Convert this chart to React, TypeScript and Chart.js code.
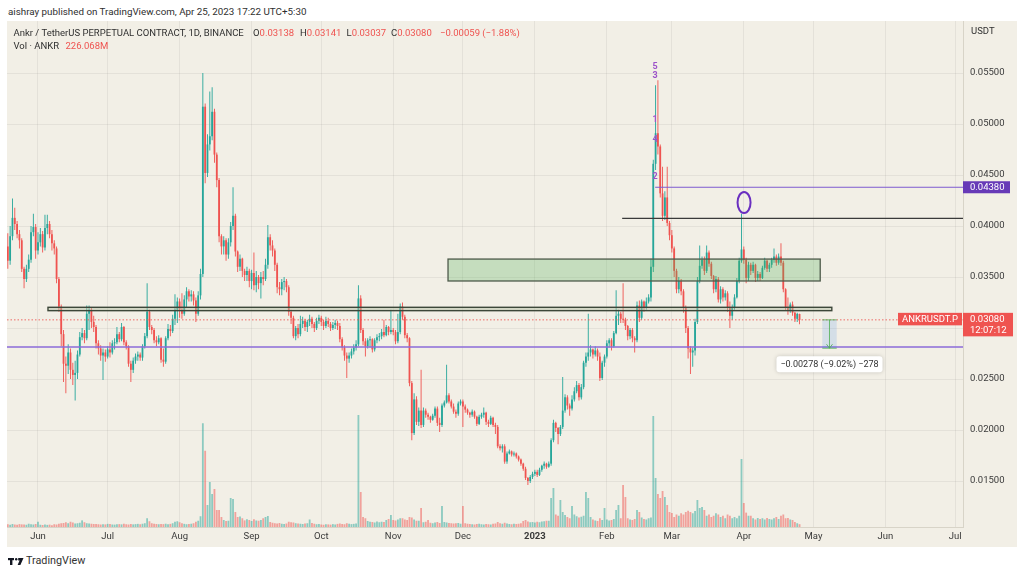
import React, { useEffect, useRef } from "react";
import { Chart, registerables } from "chart.js";

Chart.register(...registerables);

const FONT = "Roboto, 'Liberation Sans', Arial, sans-serif";
const BG = "#f2efe6";
const UP = "#26a69a";
const DOWN = "#ef5350";

// ---- data (day index 0 = 1 Jun 2022, prices in units of 0.0001 USDT) ----
const FIRST_DAY = -13;
const PRICE_UNIT = 0.0001;
const FIRST_OPEN = 380;

const CLOSES = [
  366,390,408,402,392,386,358,348,358,367,
  394,399,376,384,392,379,398,402,392,383,
  378,348,321,294,265,263,276,259,254,256,
  274,291,295,290,314,318,306,301,285,280,
  273,276,272,279,276,285,286,294,289,301,
  286,282,265,259,268,272,274,271,282,292,
  316,301,298,288,286,290,269,267,290,299,
  297,309,318,326,318,314,328,336,331,333,
  327,314,332,353,517,452,480,488,512,470,
  445,390,380,386,372,384,400,410,375,360,
  368,356,352,356,346,354,342,350,344,350,
  348,362,389,381,376,362,340,338,345,346,
  340,316,310,292,300,294,304,307,301,306,
  309,304,300,307,310,306,302,307,304,300,
  303,305,302,289,281,273,270,273,277,281,
  284,329,298,287,282,288,289,279,288,291,
  292,296,293,301,296,298,296,287,296,321,
  311,293,290,246,197,230,208,219,205,219,
  215,213,210,214,221,207,205,224,227,234,
  228,223,218,216,226,228,223,220,217,215,
  218,213,206,213,215,217,208,206,212,205,
  203,184,182,184,169,177,179,176,177,174,
  171,167,162,153,150,154,157,159,156,161,
  165,167,164,167,190,207,202,196,203,219,
  232,224,221,230,238,244,232,242,266,272,
  276,279,274,278,272,251,266,272,285,288,
  282,295,312,314,309,308,302,292,298,290,
  288,322,310,326,320,326,330,360,461,491,
  478,432,410,428,403,391,378,356,338,346,
  336,320,300,280,276,278,306,346,361,367,
  356,374,363,351,338,348,328,338,330,334,
  320,312,320,330,346,366,377,367,349,362,
  356,362,349,353,349,359,366,358,362,367,
  370,364,370,364,338,320,317,323,315,309,
  313.8,308,
];

const HIGHS = [
  393,400,427,418,405,396,388,360,362,372,
  400,412,402,394,398,395,411,411,405,396,
  386,380,350,323,298,272,284,280,266,268,
  278,296,300,298,322,322,320,312,303,288,
  283,280,279,282,286,288,290,301,296,305,
  302,288,283,268,271,275,277,276,284,295,
  344,318,303,300,292,293,291,280,292,304,
  303,313,333,330,329,334,332,340,338,337,
  336,330,336,358,550,520,490,532,536,515,
  472,447,392,390,388,388,404,438,412,376,
  372,369,358,360,358,357,374,356,352,355,
  356,368,401,392,386,378,364,345,348,350,
  348,342,318,312,302,304,312,311,309,308,
  313,311,306,310,313,312,308,311,310,306,
  306,308,307,305,291,283,276,276,280,284,
  288,342,332,300,290,290,292,290,290,294,
  295,299,308,303,302,318,300,298,314,324,
  325,313,295,291,248,236,233,222,259,222,
  221,217,214,216,223,223,212,226,229,264,
  236,230,226,220,228,230,230,225,221,218,
  220,219,214,215,217,222,218,210,214,213,
  207,205,186,186,186,179,181,180,179,178,
  175,172,168,164,154,156,159,161,161,163,
  166,169,168,169,192,210,208,203,205,252,
  235,234,226,234,242,248,246,245,268,276,
  314,283,280,282,280,276,268,274,288,290,
  290,297,337,318,316,344,310,303,300,300,
  292,326,327,328,327,330,333,368,465,538,
  543,480,458,434,458,405,396,380,358,350,
  348,338,322,302,282,281,309,350,381,370,
  370,381,376,365,352,351,350,341,340,337,
  336,326,323,333,349,369,412,380,369,365,
  364,365,363,356,355,361,369,367,364,369,
  378,372,373,383,366,339,330,325,326,316,
  315,314.1,
];

const LOWS = [
  358,362,386,396,388,378,355,339,345,355,
  364,390,368,372,380,374,376,392,388,376,
  372,344,316,282,247,236,255,250,244,229,
  250,272,288,285,288,298,300,296,280,274,
  268,249,267,270,271,274,279,284,286,287,
  283,279,262,247,256,265,268,268,268,280,
  290,298,294,285,282,284,266,262,265,288,
  292,295,303,305,310,309,312,320,326,326,
  322,306,312,328,350,442,448,474,484,462,
  438,384,372,372,366,368,380,396,370,355,
  356,350,346,346,340,338,337,335,338,329,
  342,346,358,376,370,356,334,332,332,337,
  335,312,304,290,288,290,292,300,297,296,
  302,300,296,298,304,302,298,300,301,297,
  298,299,298,286,278,268,251,266,270,274,
  278,282,295,283,272,280,281,276,277,285,
  287,289,291,292,293,294,293,284,285,294,
  308,290,286,243,190,195,205,204,202,203,
  212,210,207,209,212,204,198,203,222,226,
  226,221,216,212,214,224,203,217,215,212,
  213,211,204,205,211,212,205,203,205,203,
  196,182,180,178,167,167,176,174,174,172,
  169,165,160,151,146,148,152,155,154,155,
  159,162,162,163,165,188,198,186,194,201,
  217,220,214,219,228,236,229,230,240,262,
  268,272,270,272,268,248,249,262,270,281,
  278,281,294,303,305,305,298,288,289,286,
  276,286,306,308,316,318,324,326,355,455,
  470,428,405,406,400,386,374,350,334,334,
  332,315,295,270,255,262,273,304,344,358,
  352,354,360,348,334,335,325,324,326,327,
  316,300,308,318,329,344,364,363,344,346,
  352,354,345,346,346,348,357,355,355,359,
  364,361,362,361,335,317,313,315,312,306,
  306,303.7,
];

// volume in millions of ANKR
const VOLUMES_M = [
  220,180,240,200,190,230,210,200,180,260,
  220,200,240,420,180,160,200,170,190,150,
  220,200,260,300,320,380,300,420,360,280,
  300,340,530,380,300,280,260,240,250,220,
  200,230,210,250,240,200,190,220,230,210,
  260,220,200,240,210,230,250,220,260,300,
  700,460,300,260,240,220,250,230,260,220,
  250,300,420,460,380,300,250,220,240,260,
  300,420,500,860,8300,6100,1760,3600,2640,3040,
  1360,1360,800,560,480,500,2320,2240,1200,800,
  850,700,530,620,560,480,620,520,500,560,
  700,800,880,400,340,300,280,320,260,240,
  280,420,380,360,300,280,260,240,280,300,
  600,320,260,220,240,200,180,220,210,190,
  230,200,250,280,240,220,300,260,230,250,
  280,8960,2800,800,700,480,420,400,360,440,
  380,420,400,560,640,960,560,520,600,700,
  700,600,560,800,760,600,500,500,1520,380,
  420,560,340,300,360,400,320,1680,400,360,
  320,300,280,300,320,260,1680,300,260,240,
  220,200,240,260,220,200,240,220,200,260,
  280,400,300,260,340,280,240,220,260,240,
  260,300,480,560,440,380,400,360,420,380,
  440,460,500,500,2320,3120,1000,900,2160,1200,
  960,800,700,1680,1000,860,760,820,900,2800,
  2320,800,600,520,480,700,560,1520,600,520,
  560,640,1360,1760,700,3360,2400,700,600,560,
  640,1360,1200,760,640,600,700,760,8880,3920,
  2640,2320,2880,2400,1760,1200,1120,800,1000,900,
  1100,1000,1200,1300,1200,1100,1280,2160,1520,1600,
  1360,900,1000,800,900,1100,1000,800,900,700,
  1000,900,700,800,700,900,5440,1920,1150,900,
  900,700,600,720,640,700,600,720,640,600,
  700,800,640,900,1000,700,720,600,560,400,
  300,226,
];

const MONTH_DAYS = [0, 30, 61, 92, 122, 153, 183, 214, 245, 273, 304, 334, 365, 395];
const MONTH_LABELS = ["Jun", "Jul", "Aug", "Sep", "Oct", "Nov", "Dec", "2023", "Feb", "Mar", "Apr", "May", "Jun", "Jul"];
const PRICE_TICKS = [0.015, 0.02, 0.025, 0.03, 0.035, 0.04, 0.045, 0.05, 0.055];

const X_RANGE = [-13.35, 398.4];
const Y_RANGE = [0.01049, 0.0601];
const VOL_MAX = 40480;

// drawings (day index / price)
const SUPPORT_ZONE = { from: 4.3, to: 341.9, low: 0.0317, high: 0.03203 };
const DEMAND_ZONE = { from: 176.6, to: 336.9, low: 0.03461, high: 0.03676 };
const RESIST_LINE = { from: 251.6, price: 0.04075 };
const TARGET_LINE = { from: 265.8, price: 0.0438, label: "0.04380" };
const LOW_LINE = 0.02814;
const LAST_PRICE = 0.0308;
const LAST_LABEL = ["0.03080", "12:07:12"];
const SYMBOL_LABEL = "ANKRUSDT.P";
const MEASURE = { from: 337.8, to: 344.0, start: 0.0308, end: 0.02802, text: "\u22120.00278 (\u22129.02%) \u2212278" };
const CIRCLE = { day: 304.1, price: 0.0423 };
const WAVE_DAY = 265.8;
const WAVE_LABELS: [string, number][] = [["5", 0.05559], ["3", 0.05474], ["1", 0.05039], ["4", 0.04843], ["2", 0.0448]];

const HEADER = "aishray published on TradingView.com, Apr 25, 2023 17:22 UTC+5:30";
const TITLE = "Ankr / TetherUS PERPETUAL CONTRACT, 1D, BINANCE";
const OHLC: [string, string, number][] = [["O", "0.03138", 253], ["H", "0.03141", 300], ["L", "0.03037", 346.5], ["C", "0.03080", 391]];
const CHANGE = "\u22120.00059 (\u22121.88%)";
const VOL_TITLE = "Vol \u00b7 ANKR";
const VOL_VALUE = "226.068M";

const drawings = {
  id: "drawings",
  afterDraw(chart: any) {
    const { ctx, chartArea: a } = chart;
    const xs = chart.scales.x;
    const ys = chart.scales.y;
    const X = (d: number) => xs.getPixelForValue(d);
    const Y = (p: number) => ys.getPixelForValue(p);
    ctx.save();
    ctx.beginPath();
    ctx.rect(a.left, a.top, a.right - a.left, a.bottom - a.top);
    ctx.clip();

    // demand zone
    {
      const z = DEMAND_ZONE;
      const x0 = X(z.from), x1 = X(z.to), y0 = Y(z.high), y1 = Y(z.low);
      ctx.fillStyle = "rgba(76,175,80,0.27)";
      ctx.fillRect(x0, y0, x1 - x0, y1 - y0);
      ctx.strokeStyle = "#4d5a4a";
      ctx.lineWidth = 1.3;
      ctx.strokeRect(x0, y0, x1 - x0, y1 - y0);
    }
    // support zone
    {
      const z = SUPPORT_ZONE;
      const x0 = X(z.from), x1 = X(z.to), y0 = Y(z.high), y1 = Y(z.low);
      ctx.fillStyle = "rgba(170,185,155,0.45)";
      ctx.fillRect(x0, y0, x1 - x0, y1 - y0);
      ctx.strokeStyle = "#3c4739";
      ctx.lineWidth = 1.4;
      ctx.strokeRect(x0, y0, x1 - x0, y1 - y0);
    }
    const hline = (x0: number, p: number, color: string, w: number) => {
      ctx.strokeStyle = color;
      ctx.lineWidth = w;
      ctx.beginPath();
      ctx.moveTo(x0, Y(p));
      ctx.lineTo(a.right, Y(p));
      ctx.stroke();
    };
    hline(a.left, LOW_LINE, "#8b6bd8", 1.3);
    hline(X(RESIST_LINE.from), RESIST_LINE.price, "#3a3a3a", 1.1);
    hline(X(TARGET_LINE.from), TARGET_LINE.price, "#7e5bd0", 1);
    ctx.setLineDash([1.5, 2]);
    hline(a.left, LAST_PRICE, "rgba(239,83,80,0.85)", 1);
    ctx.setLineDash([]);

    // measurement
    {
      const m = MEASURE;
      const x0 = X(m.from), x1 = X(m.to), y0 = Y(m.start), y1 = Y(m.end);
      ctx.fillStyle = "rgba(33,120,243,0.14)";
      ctx.fillRect(x0, y0, x1 - x0, y1 - y0);
      ctx.strokeStyle = "rgba(76,175,80,0.8)";
      ctx.lineWidth = 1;
      ctx.beginPath();
      ctx.moveTo(x0, y0); ctx.lineTo(x1, y0);
      ctx.moveTo(x0, y1); ctx.lineTo(x1, y1);
      const xc = (x0 + x1) / 2;
      ctx.moveTo(xc, y0); ctx.lineTo(xc, y1);
      ctx.moveTo(xc - 3, y1 - 4); ctx.lineTo(xc, y1); ctx.lineTo(xc + 3, y1 - 4);
      ctx.stroke();
    }
    // circle
    ctx.strokeStyle = "#6a2fc0";
    ctx.lineWidth = 2;
    ctx.beginPath();
    ctx.ellipse(X(CIRCLE.day), Y(CIRCLE.price), 6.5, 10.5, 0, 0, Math.PI * 2);
    ctx.stroke();
    // wave labels
    ctx.fillStyle = "#9c52c9";
    ctx.font = `bold 9px ${FONT}`;
    ctx.textAlign = "center";
    ctx.textBaseline = "middle";
    for (const [t, p] of WAVE_LABELS) ctx.fillText(t, X(WAVE_DAY), Y(p));
    ctx.restore();

    // measurement label
    {
      const m = MEASURE;
      const xc = (X(m.from) + X(m.to)) / 2;
      const yt = Y(m.end) + 8;
      ctx.save();
      ctx.shadowColor = "rgba(0,0,0,0.18)";
      ctx.shadowBlur = 4;
      ctx.fillStyle = "#ffffff";
      ctx.beginPath();
      (ctx as any).roundRect(xc - 53, yt, 106, 16, 3);
      ctx.fill();
      ctx.restore();
      ctx.fillStyle = "#333333";
      ctx.font = `9px ${FONT}`;
      ctx.textAlign = "center";
      ctx.textBaseline = "middle";
      ctx.fillText(m.text, xc, yt + 8.5);
    }

    // axis labels
    ctx.font = `9.5px ${FONT}`;
    ctx.textBaseline = "middle";
    {
      const yp = Y(TARGET_LINE.price);
      ctx.fillStyle = "#673ab7";
      ctx.fillRect(a.right, yp - 6, 47, 12);
      ctx.fillStyle = "#ffffff";
      ctx.textAlign = "left";
      ctx.fillText(TARGET_LINE.label, a.right + 7, yp + 0.5);
    }
    {
      const yp = Y(LAST_PRICE);
      ctx.fillStyle = DOWN;
      ctx.fillRect(a.right, yp - 7, 50, 23.5);
      ctx.fillRect(a.right - 65, yp - 7, 64, 12.5);
      ctx.fillStyle = "#ffffff";
      ctx.textAlign = "left";
      ctx.fillText(LAST_LABEL[0], a.right + 7, yp - 0.5);
      ctx.fillText(LAST_LABEL[1], a.right + 7, yp + 11);
      ctx.textAlign = "center";
      ctx.fillText(SYMBOL_LABEL, a.right - 33, yp - 0.5);
    }
  },
};

export default function App() {
  const ref = useRef<HTMLCanvasElement>(null);

  useEffect(() => {
    const opens = CLOSES.map((_, i) => (i === 0 ? FIRST_OPEN : CLOSES[i - 1]));
    const days = CLOSES.map((_, i) => FIRST_DAY + i);
    const isUp = CLOSES.map((c, i) => c >= opens[i]);
    const colors = isUp.map((u) => (u ? UP : DOWN));
    const volColors = isUp.map((u) => (u ? "rgba(38,166,154,0.5)" : "rgba(239,83,80,0.5)"));

    const chart = new Chart(ref.current as HTMLCanvasElement, {
      type: "bar",
      data: {
        datasets: [
          {
            label: "Volume",
            yAxisID: "yv",
            data: days.map((d, i) => ({ x: d, y: VOLUMES_M[i] })) as any,
            backgroundColor: volColors,
            barThickness: 1.8,
            grouped: false,
            inflateAmount: 0,
            borderWidth: 0,
            order: 3,
          } as any,
          {
            label: "Wicks",
            yAxisID: "y",
            data: days.map((d, i) => ({ x: d, y: [LOWS[i] * PRICE_UNIT, HIGHS[i] * PRICE_UNIT] })) as any,
            backgroundColor: colors,
            barThickness: 0.9,
            grouped: false,
            inflateAmount: 0,
            borderWidth: 0,
            order: 2,
          } as any,
          {
            label: "Bodies",
            yAxisID: "y",
            data: days.map((d, i) => ({ x: d, y: [opens[i] * PRICE_UNIT, CLOSES[i] * PRICE_UNIT] })) as any,
            backgroundColor: colors,
            barThickness: 1.8,
            grouped: false,
            inflateAmount: 0,
            borderWidth: 0,
            order: 1,
          } as any,
        ],
      },
      options: {
        animation: false,
        responsive: false,
        maintainAspectRatio: false,
        layout: { padding: 0 },
        plugins: { legend: { display: false }, tooltip: { enabled: false } },
        scales: {
          x: {
            type: "linear",
            min: X_RANGE[0],
            max: X_RANGE[1],
            offset: false,
            grid: { color: "rgba(0,0,0,0.055)", drawTicks: false, offset: false } as any,
            border: { display: true, color: "#d8d4c8" },
            afterBuildTicks: (s: any) => {
              s.ticks = MONTH_DAYS.map((v) => ({ value: v }));
            },
            afterFit: (s: any) => {
              s.height = 20;
              s.paddingLeft = 0;
              s.paddingRight = 0;
            },
            ticks: {
              autoSkip: false,
              maxRotation: 0,
              padding: 4,
              color: "#3a3a3a",
              font: (c: any) => ({ size: 9.5, family: FONT, weight: c.index === 7 ? "bold" : "normal" }),
              callback: (v: any) => {
                const k = MONTH_DAYS.indexOf(Number(v));
                return k >= 0 ? MONTH_LABELS[k] : "";
              },
            },
          } as any,
          y: {
            position: "right",
            min: Y_RANGE[0],
            max: Y_RANGE[1],
            grid: { color: "rgba(0,0,0,0.055)", drawTicks: false },
            border: { display: true, color: "#d8d4c8" },
            afterBuildTicks: (s: any) => {
              s.ticks = PRICE_TICKS.map((v) => ({ value: v }));
            },
            afterFit: (s: any) => {
              s.width = 54;
              s.paddingTop = 0;
              s.paddingBottom = 0;
            },
            ticks: {
              padding: 7,
              color: "#3a3a3a",
              font: { size: 9.5, family: FONT },
              callback: (v: any) => Number(v).toFixed(5),
            },
          } as any,
          yv: {
            display: false,
            min: 0,
            max: VOL_MAX,
          },
        },
      },
      plugins: [drawings as any],
    });
    return () => chart.destroy();
  }, []);

  const txt: React.CSSProperties = { position: "absolute", whiteSpace: "nowrap", lineHeight: "12px", fontSize: 9.5 };

  return (
    <div style={{ position: "absolute", left: 0, top: 0, width: 1024, height: 574, background: "#ffffff", fontFamily: FONT, overflow: "hidden", color: "#2f2f2f" }}>
      <div style={{ ...txt, left: 8, top: 6, fontSize: 9.8 }}>{HEADER}</div>
      <div style={{ position: "absolute", left: 7, top: 21, width: 1010, height: 526, background: BG }} />
      <canvas ref={ref} width={1010} height={526} style={{ position: "absolute", left: 7, top: 21, width: 1010, height: 526 }} />
      <div style={{ ...txt, left: 13.5, top: 27 }}>{TITLE}</div>
      {OHLC.map(([k, v, x]) => (
        <div key={k} style={{ ...txt, left: x, top: 27 }}>
          {k}
          <span style={{ color: DOWN }}>{v}</span>
        </div>
      ))}
      <div style={{ ...txt, left: 440, top: 27, color: DOWN }}>{CHANGE}</div>
      <div style={{ ...txt, left: 13.5, top: 40 }}>{VOL_TITLE}</div>
      <div style={{ ...txt, left: 65.5, top: 40, color: DOWN }}>{VOL_VALUE}</div>
      <div style={{ ...txt, left: 971, top: 25 }}>USDT</div>
      <svg style={{ position: "absolute", left: 7.5, top: 558 }} width="16" height="7" viewBox="0 0 16 7">
        <rect x="0" y="0" width="6" height="2.2" fill="#131722" />
        <rect x="2" y="0" width="2.4" height="7" fill="#131722" />
        <circle cx="8.2" cy="1.2" r="1.2" fill="#131722" />
        <polygon points="10.2,0 15.5,0 12.4,7 9.6,7 11.6,2.4 10.2,2.4" fill="#131722" />
      </svg>
      <div style={{ ...txt, left: 26, top: 555, fontSize: 10.8, color: "#333" }}>TradingView</div>
    </div>
  );
}
